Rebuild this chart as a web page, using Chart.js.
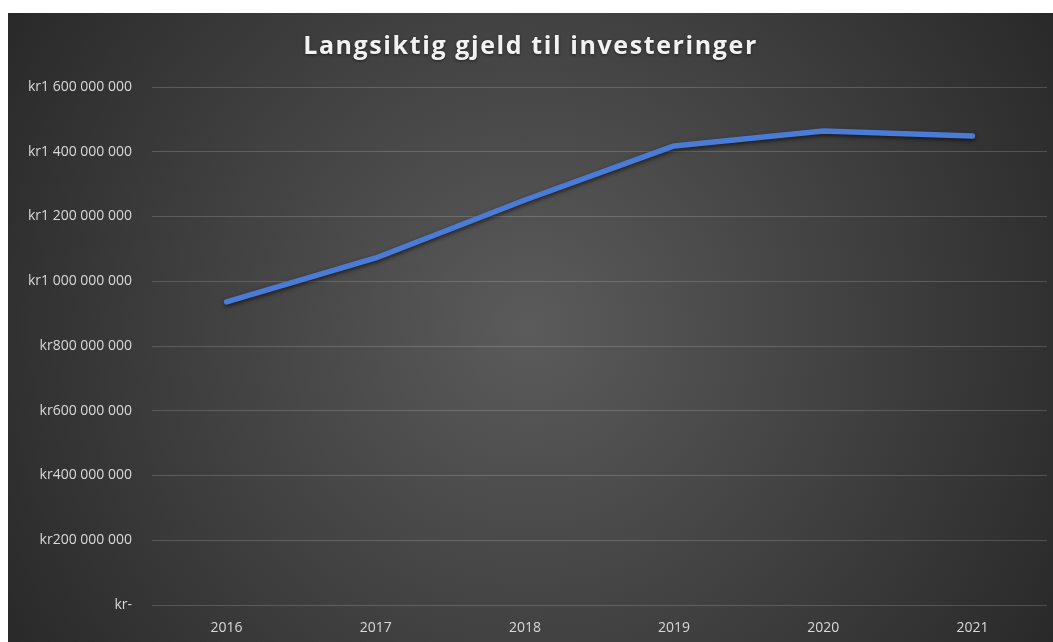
<!DOCTYPE html>
<html>
<head>
<meta charset="utf-8">
<script src="https://cdn.jsdelivr.net/npm/chart.js@4"></script>
<style>
  html, body { margin: 0; padding: 0; background: #fff; }
  #wrap { position: absolute; left: 8px; top: 13px; width: 1045px; height: 629px; }
</style>
</head>
<body>
<div id="wrap"><canvas id="gjeldChart"></canvas></div>
<script>
// Data
const tittel = "Langsiktig gjeld til investeringer";
const years = ["2016", "2017", "2018", "2019", "2020", "2021"];
const gjeld = [936000000, 1072000000, 1251000000, 1418000000, 1464000000, 1449000000];
const yMax = 1600000000;
const yStep = 200000000;

function kroner(v) {
  if (v === 0) return "kr-";
  return "kr" + String(v).replace(/\B(?=(\d{3})+(?!\d))/g, " ");
}

// Mørk bakgrunn med radial gradient + tittel med sperret skrift
const bakgrunn = {
  id: "bakgrunn",
  beforeDraw(chart) {
    const { ctx, width, height } = chart;
    const g = ctx.createRadialGradient(width / 2, height / 2, 0, width / 2, height / 2, width * 0.62);
    g.addColorStop(0, "#5b5b5b");
    g.addColorStop(1, "#262626");
    ctx.save();
    ctx.fillStyle = g;
    ctx.fillRect(0, 0, width, height);
    ctx.restore();
  },
  beforeDatasetDraw(chart) {
    const ctx = chart.ctx;
    ctx.save();
    ctx.shadowColor = "rgba(0,0,0,0.6)";
    ctx.shadowBlur = 4;
    ctx.shadowOffsetY = 2;
  },
  afterDatasetDraw(chart) {
    chart.ctx.restore();
  },
  afterDraw(chart) {
    const ctx = chart.ctx;
    ctx.save();
    ctx.font = "bold 25px 'Open Sans'";
    ctx.letterSpacing = "1.6px";
    ctx.fillStyle = "#f2f2f2";
    ctx.textAlign = "center";
    ctx.textBaseline = "middle";
    ctx.shadowColor = "rgba(0,0,0,0.5)";
    ctx.shadowBlur = 3;
    ctx.shadowOffsetY = 1;
    ctx.fillText(tittel, chart.width / 2, 34);
    ctx.restore();
  }
};

const ctx = document.getElementById("gjeldChart").getContext("2d");
new Chart(ctx, {
  type: "line",
  data: {
    labels: years,
    datasets: [{
      label: "Langsiktig gjeld",
      data: gjeld,
      borderColor: "#4a7bd6",
      borderWidth: 5.5,
      borderCapStyle: "round",
      borderJoinStyle: "round",
      pointRadius: 0,
      tension: 0,
      fill: false
    }]
  },
  options: {
    responsive: true,
    maintainAspectRatio: false,
    animation: false,
    layout: { padding: { left: 0, right: 6, top: 74, bottom: 0 } },
    plugins: {
      legend: { display: false },
      tooltip: { enabled: false },
      title: { display: false }
    },
    scales: {
      x: {
        offset: true,
        grid: { display: false, drawTicks: false },
        border: { display: false },
        ticks: { color: "#d9d9d9", font: { family: "'Open Sans'", size: 14 }, padding: 15 },
        afterFit(s) { s.height = 37; }
      },
      y: {
        min: 0,
        max: yMax,
        grid: { color: "rgba(255,255,255,0.17)", lineWidth: 1, drawTicks: false },
        border: { display: false },
        ticks: {
          stepSize: yStep,
          color: "#d9d9d9",
          font: { family: "'Open Sans'", size: 14 },
          padding: 20,
          callback: v => kroner(v)
        },
        afterFit(s) { s.width = 144; }
      }
    }
  },
  plugins: [bakgrunn]
});
</script>
</body>
</html>
